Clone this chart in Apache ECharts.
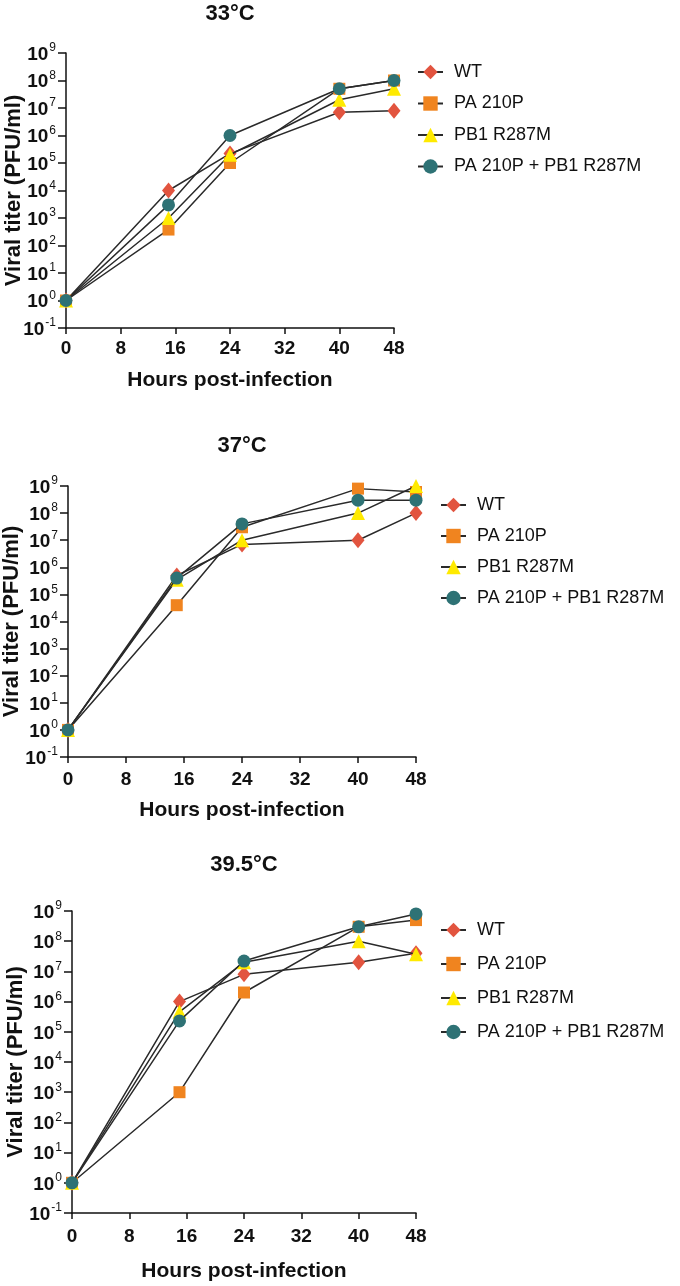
<!DOCTYPE html>
<html>
<head>
<meta charset="utf-8">
<script src="https://cdn.jsdelivr.net/npm/echarts@6/dist/echarts.min.js"></script>
<style>
html,body{margin:0;padding:0;background:#fff;}
#chart{width:680px;height:1286px;}
</style>
</head>
<body>
<div id="chart"></div>
<script>
// ---- data ----
const hours = [0, 15, 24, 40, 48];
const xTicks = [0, 8, 16, 24, 32, 40, 48];
const panelTitles = ['33°C', '37°C', '39.5°C'];
const seriesNames = ['WT', 'PA 210P', 'PB1 R287M', 'PA 210P + PB1 R287M'];
const yTickExponents = [-1, 0, 1, 2, 3, 4, 5, 6, 7, 8, 9];

const wt33 = [1, 1e4, 2.2e5, 7e6, 8e6];
const pa33 = [1, 380, 1e5, 5e7, 1e8];
const pb33 = [1, 1e3, 2e5, 2e7, 5e7];
const combo33 = [1, 3e3, 1e6, 5e7, 1e8];

const wt37 = [1, 5e5, 7e6, 1e7, 1e8];
const pa37 = [1, 4e4, 3e7, 8e8, 6e8];
const pb37 = [1, 3.5e5, 1e7, 1e8, 1e9];
const combo37 = [1, 4e5, 4e7, 3e8, 3e8];

const wt395 = [1, 1e6, 8e6, 2e7, 4e7];
const pa395 = [1, 1e3, 2e6, 3e8, 5e8];
const pb395 = [1, 4.6e5, 2e7, 1e8, 3.7e7];
const combo395 = [1, 2.3e5, 2.2e7, 3e8, 8e8];

const panelData = [
  [wt33, pa33, pb33, combo33],
  [wt37, pa37, pb37, combo37],
  [wt395, pa395, pb395, combo395]
];

// ---- styles ----
const markerColors = ['#e2543f', '#f0841f', '#ffea00', '#2e7275'];
const markerSymbols = ['diamond', 'rect', 'triangle', 'circle'];
const markerSizes = [[13, 16], 12, 14, 13];
const narrow = "'Liberation Sans Narrow', 'Arial Narrow', 'Liberation Sans', Arial, sans-serif";
const regular = "'Liberation Sans', Arial, sans-serif";

const layout = [
  {left: 66, width: 328, top: 53, height: 275, titleX: 230, titleTop: 3, yGap: 41, xGap: 42, xMargin: 11, legendLeft: 417, legendTop: 62, legendGap: 11.5},
  {left: 68, width: 348, top: 486, height: 271, titleX: 242, titleTop: 435, yGap: 45, xGap: 43, xMargin: 13, legendLeft: 440, legendTop: 495, legendGap: 11},
  {left: 72, width: 344, top: 911, height: 302, titleX: 244, titleTop: 854, yGap: 45, xGap: 48, xMargin: 14, legendLeft: 440, legendTop: 920, legendGap: 14}
];

const option = {
  animation: false,
  backgroundColor: '#fff',
  title: [], grid: [], xAxis: [], yAxis: [], legend: [], series: []
};

layout.forEach((L, i) => {
  option.title.push({
    text: panelTitles[i], left: L.titleX, top: L.titleTop, textAlign: 'center', padding: 0,
    textStyle: {fontFamily: narrow, fontWeight: 'bold', fontSize: 22, color: '#111'}
  });
  option.grid.push({left: L.left, top: L.top, width: L.width, height: L.height, containLabel: false, outerBoundsMode: 'none'});
  option.xAxis.push({
    type: 'value', gridIndex: i, min: xTicks[0], max: xTicks[xTicks.length - 1], interval: 8,
    name: 'Hours post-infection', nameLocation: 'middle', nameGap: L.xGap, nameMoveOverlap: false,
    nameTextStyle: {fontFamily: narrow, fontWeight: 'bold', fontSize: 21, color: '#111'},
    axisLine: {lineStyle: {color: '#111', width: 1.5}},
    axisTick: {show: true, length: 6, lineStyle: {color: '#111', width: 1.5}},
    axisLabel: {fontFamily: narrow, fontWeight: 'bold', fontSize: 19, color: '#111', margin: L.xMargin},
    splitLine: {show: false}
  });
  option.yAxis.push({
    type: 'log', logBase: 10, gridIndex: i, min: Math.pow(10, yTickExponents[0]), max: Math.pow(10, yTickExponents[yTickExponents.length - 1]),
    interval: 1,
    name: 'Viral titer (PFU/ml)', nameLocation: 'middle', nameGap: L.yGap, nameRotate: 90, nameMoveOverlap: false,
    nameTextStyle: {fontFamily: narrow, fontWeight: 'bold', fontSize: 22, color: '#111'},
    axisLine: {show: true, lineStyle: {color: '#111', width: 1.5}},
    axisTick: {show: true, length: 8, lineStyle: {color: '#111', width: 1.5}},
    axisLabel: {
      margin: 10,
      formatter: v => {
        const e = Math.round(Math.log10(v));
        return '{b|10}{s|' + e + '}';
      },
      rich: {
        b: {fontFamily: narrow, fontWeight: 'bold', fontSize: 19, color: '#111', lineHeight: 22, verticalAlign: 'bottom'},
        s: {fontFamily: narrow, fontWeight: 'normal', fontSize: 12, color: '#111', lineHeight: 22, verticalAlign: 'top', padding: [0, 0, 8, 1]}
      }
    },
    splitLine: {show: false}
  });
  option.legend.push({
    data: seriesNames, orient: 'vertical', left: L.legendLeft, top: L.legendTop, padding: 0,
    itemWidth: 25, itemHeight: 18, itemGap: L.legendGap,
    textStyle: {fontFamily: regular, fontSize: 18, color: '#111', lineHeight: 20, padding: [0, 0, 0, 6]},
    selectedMode: false
  });
  panelData[i].forEach((vals, k) => {
    option.series.push({
      name: seriesNames[k], type: 'line', xAxisIndex: i, yAxisIndex: i,
      data: hours.map((h, j) => [h, vals[j]]),
      symbol: markerSymbols[k], symbolSize: markerSizes[k],
      lineStyle: {color: '#2a2a2a', width: 1.5},
      itemStyle: {color: markerColors[k]},
      z: 2 + k
    });
  });
});

const chart = echarts.init(document.getElementById('chart'), null, {renderer: 'canvas'});
chart.setOption(option);
</script>
</body>
</html>
